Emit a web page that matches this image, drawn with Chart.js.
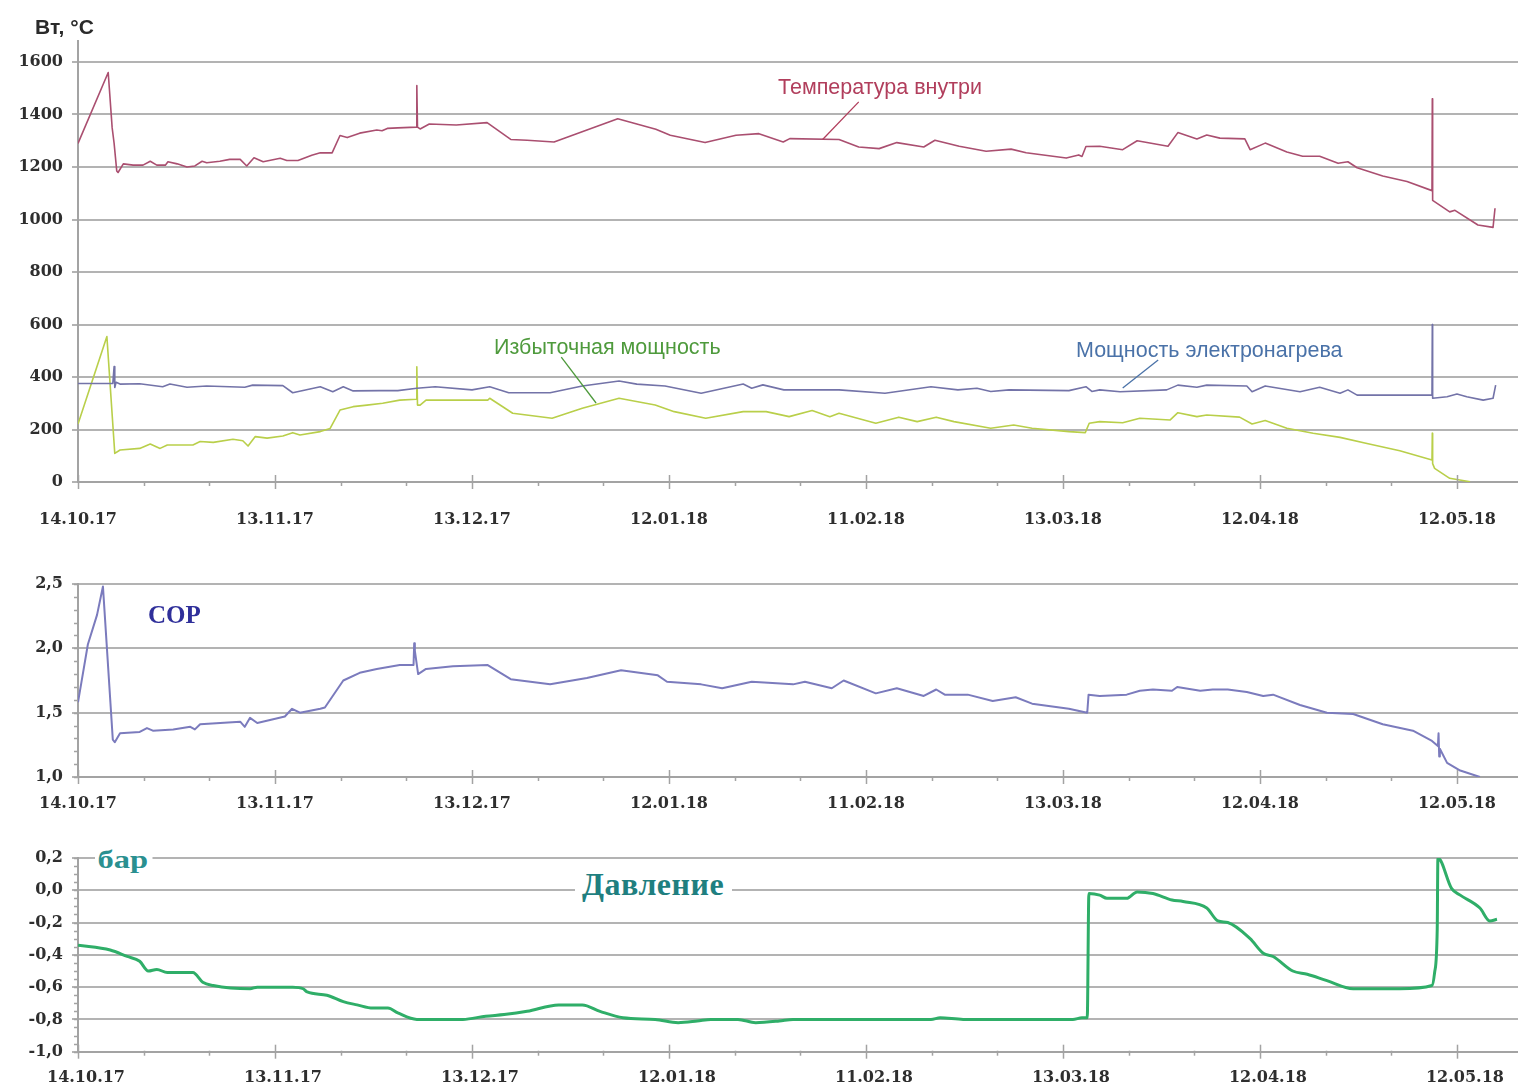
<!DOCTYPE html>
<html><head><meta charset="utf-8">
<script src="https://cdn.jsdelivr.net/npm/chart.js@4.4.1/dist/chart.umd.min.js"></script>
<style>
html,body{margin:0;padding:0;background:#fff;}
body{width:1518px;height:1088px;position:relative;overflow:hidden;}
.panel{position:absolute;left:0;width:1518px;}
.lbl{position:absolute;white-space:nowrap;line-height:1;}
</style></head><body>
<div class="panel" style="top:0;height:540px"><canvas id="c1"></canvas></div>
<div class="panel" style="top:545px;height:280px"><canvas id="c2"></canvas></div>
<div class="panel" style="top:830px;height:258px"><canvas id="c3"></canvas></div>

<div class="lbl" style="left:35px;top:15px;font:bold 21px 'Liberation Sans';color:#2a2a2a">Вт, °C</div>
<div class="lbl" style="left:778px;top:75px;font:21.5px 'Liberation Sans';color:#b13e5c">Температура внутри</div>
<div class="lbl" style="left:494px;top:335px;font:21.5px 'Liberation Sans';color:#4e9a3c">Избыточная мощность</div>
<div class="lbl" style="left:1076px;top:338px;font:21.5px 'Liberation Sans';color:#4a72a8">Мощность электронагрева</div>
<div class="lbl" style="left:148px;top:601px;font:bold 25px 'Liberation Serif';color:#2f2f9a">COP</div>
<div class="lbl" style="left:95px;top:845px;padding:0 4px 0 2px;background:#fff;font:bold 26px 'Liberation Serif';color:#2a9090;transform:scaleX(1.25);transform-origin:left center">бар</div>
<div class="lbl" style="left:575px;top:866px;padding:0 8px 0 7px;background:#fff;font:bold 32px 'Liberation Serif';color:#1f7f80;letter-spacing:0.5px">Давление</div>

<script>
// ---- tick labels (every 30 days from 14.10.17) ----
const tickLabels = ['14.10.17','13.11.17','13.12.17','12.01.18','11.02.18','13.03.18','12.04.18','12.05.18'];

// ---- Температура внутри (days since 14.10.17, value) ----
const tempDays = [0,4.6,5.2,5.5,5.9,6.1,6.9,8.4,9.9,11.0,12.0,13.3,13.7,15.1,16.6,17.8,18.9,19.6,21.6,23.1,24.7,25.7,26.8,28.2,30.8,31.8,33.5,35.6,36.9,38.7,39.9,41.0,42.9,45.5,46.3,47.1,48.7,51.5,51.6,51.7,52.1,53.5,57.6,62.3,65.9,68.4,72.5,82.2,88.0,90.2,95.5,100.2,103.7,107.4,108.4,115.9,118.9,122.0,124.7,128.8,130.5,134.2,138.3,142.1,144.4,150.5,152.4,152.9,153.5,155.6,159.1,161.3,166.0,167.5,170.4,171.9,173.9,177.7,178.5,180.8,184.1,186.5,189.1,191.9,193.4,194.8,198.7,202.4,206.2,206.25,206.3,208.9,209.7,213.2,215.5,215.8];
const tempValues = [1290,1560,1350,1290,1185,1179,1212,1207,1207,1222,1207,1207,1220,1212,1200,1204,1222,1216,1222,1229,1229,1204,1235,1220,1233,1225,1225,1245,1254,1254,1320,1312,1329,1341,1338,1347,1349,1352,1510,1352,1345,1364,1360,1369,1305,1302,1295,1384,1344,1321,1293,1321,1327,1295,1308,1305,1276,1270,1293,1276,1302,1279,1260,1268,1254,1234,1246,1240,1278,1279,1266,1300,1279,1331,1307,1322,1310,1307,1266,1291,1257,1241,1241,1214,1220,1197,1166,1145,1110,1460,1073,1029,1035,979,970,1043];

// ---- Мощность электронагрева ----
const heatDays = [0,5.3,5.5,5.6,5.8,6.4,9.4,12.9,14.0,16.6,19.6,25.4,26.6,31.2,32.7,36.9,38.8,40.4,41.9,46.0,48.7,51.6,54.4,60.0,62.7,65.6,71.9,76.8,82.4,85.1,89.4,94.9,101.3,102.6,104.3,107.5,115.9,122.9,129.9,134.0,136.9,139.0,141.8,150.9,153.5,154.4,155.6,158.7,165.8,167.5,170.4,171.9,178.0,178.8,180.8,186.1,189.1,192.2,193.4,194.8,201.3,206.2,206.25,206.3,208.5,210.0,211.5,214.0,215.5,215.9];
const heatValues = [375,375,440,360,380,373,374,363,373,361,366,361,369,367,340,363,344,363,347,348,348,357,363,351,363,340,340,366,385,373,366,338,373,357,370,351,351,338,363,351,357,345,351,348,363,345,351,344,351,369,361,369,366,344,366,344,361,338,351,331,331,331,600,319,325,335,325,312,319,369];

// ---- Избыточная мощность ----
const excessDays = [0,4.4,5.6,6.4,9.4,11.0,12.5,13.6,17.5,18.6,20.6,23.6,25.1,25.9,27.0,28.8,31.2,32.7,33.8,36.9,38.4,39.9,41.9,44.0,46.4,49.0,51.5,51.6,51.7,52.1,53.0,62.4,62.7,66.2,72.2,76.8,82.4,87.9,90.8,95.6,101.3,104.8,108.3,111.8,114.5,115.9,121.5,125.0,127.8,130.7,133.4,139.0,142.5,145.3,150.9,153.4,154.0,155.6,159.1,161.7,166.3,167.5,170.4,171.9,176.9,178.8,180.8,184.1,188.1,192.2,196.3,201.3,206.2,206.25,206.3,206.6,208.9,212.0];
const excessValues = [221,554,109,122,128,145,128,141,141,154,151,163,157,137,173,167,175,188,179,192,204,274,287,293,300,312,315,439,293,293,312,312,319,262,243,281,319,293,268,243,268,268,249,272,249,262,224,247,230,247,230,205,217,205,192,188,224,230,226,243,236,264,249,255,247,221,234,205,186,170,147,119,84,186,70,52,14,1];

// ---- COP ----
const copDays = [0,1.5,2.9,3.8,5.3,5.6,6.4,9.4,10.5,11.4,14.5,17.1,17.8,18.6,24.7,25.4,26.2,27.3,31.5,32.6,33.8,36.9,37.6,40.4,42.9,45.5,49.0,51.1,51.2,51.3,51.8,53.0,57.1,62.4,65.9,71.9,77.5,82.7,88.3,89.7,94.9,98.1,102.6,108.9,110.7,114.8,116.6,121.5,124.7,128.8,130.7,132.0,135.5,139.3,142.8,145.3,150.9,153.7,153.9,155.6,159.7,161.7,163.7,166.6,167.4,170.9,172.8,175.1,178.0,180.5,182.0,186.1,190.2,194.2,198.7,203.3,206.2,207.1,207.2,207.3,207.4,208.5,210.5,213.5];
const copValues = [1.58,2.03,2.26,2.48,1.29,1.27,1.34,1.35,1.38,1.36,1.37,1.39,1.37,1.41,1.43,1.39,1.46,1.42,1.47,1.53,1.50,1.53,1.54,1.75,1.81,1.84,1.87,1.87,2.04,1.98,1.80,1.84,1.86,1.87,1.76,1.72,1.77,1.83,1.79,1.74,1.72,1.69,1.74,1.72,1.74,1.69,1.75,1.65,1.69,1.63,1.68,1.64,1.64,1.59,1.62,1.57,1.53,1.50,1.64,1.63,1.64,1.67,1.68,1.67,1.70,1.67,1.68,1.68,1.66,1.63,1.64,1.56,1.50,1.49,1.41,1.36,1.28,1.24,1.34,1.16,1.22,1.11,1.05,1.00];

// ---- Давление, бар ----
const pressDays = [0,4.9,7.5,9.4,10.7,12.0,13.6,17.5,19.0,20.6,26.2,27.3,32.7,34.3,34.9,37.9,40.4,42.5,44.9,47.2,48.7,51.6,58.6,62.1,64.9,68.4,73.2,76.8,79.5,83.0,87.9,91.4,94.3,96.4,100.5,103.2,106.8,108.9,129.9,131.3,134.8,151.5,152.9,153.7,153.95,155.6,156.7,159.7,161.3,163.7,166.6,168.3,171.9,173.6,175.1,178.5,180.5,182.0,185.0,187.2,190.2,194.2,201.3,206.2,206.6,207.0,207.1,209.2,210.5,213.5,215.0,216.1];
const pressValues = [-0.34,-0.37,-0.41,-0.44,-0.50,-0.49,-0.51,-0.51,-0.57,-0.59,-0.61,-0.60,-0.60,-0.61,-0.63,-0.65,-0.69,-0.71,-0.73,-0.73,-0.76,-0.80,-0.80,-0.78,-0.77,-0.75,-0.71,-0.71,-0.75,-0.79,-0.80,-0.82,-0.81,-0.80,-0.80,-0.82,-0.81,-0.80,-0.80,-0.79,-0.80,-0.80,-0.79,-0.79,-0.02,-0.03,-0.05,-0.05,-0.01,-0.02,-0.06,-0.07,-0.11,-0.19,-0.20,-0.30,-0.39,-0.41,-0.50,-0.52,-0.56,-0.61,-0.61,-0.59,-0.51,-0.24,0.20,0.01,-0.03,-0.11,-0.19,-0.18];

// ---- annotation pointer lines (data coordinates) ----
const tempPointer = [[113.4,1305],[118.9,1448]];
const excessPointer = [[73.6,476],[78.9,301]];
const heatPointer = [[159.1,358],[164.5,465]];

function pts(d, v) { return d.map((x, i) => ({x: x, y: v[i]})); }

const GRID = '#b3b3b3', AXIS = '#a3a3a3', TXT = '#2e2e2e';
const tickFont = {family: 'DejaVu Serif', weight: 'bold', size: 16};

const decor = {
  id: 'decor',
  afterDatasetsDraw(chart, args, o) {
    const ctx = chart.ctx, xs = chart.scales.x, ys = chart.scales.y, a = chart.chartArea;
    ctx.save();
    ctx.strokeStyle = AXIS; ctx.lineWidth = 1.5;
    xs.ticks.forEach(t => {
      const px = Math.round(xs.getPixelForValue(t.value)) + 0.5;
      const major = Math.abs(t.value % 30) < 1e-6;
      ctx.beginPath();
      ctx.moveTo(px, a.bottom - (major ? 7 : 1));
      ctx.lineTo(px, a.bottom + (major ? 7 : 4));
      ctx.stroke();
    });
    if (o.minorStep) {
      for (let k = 0; ; k++) {
        const v = ys.min + k * o.minorStep;
        if (v > ys.max + 1e-9) break;
        const py = Math.round(ys.getPixelForValue(v)) + 0.5;
        ctx.beginPath(); ctx.moveTo(a.left - 4, py); ctx.lineTo(a.left, py); ctx.stroke();
      }
    }
    (o.pointers || []).forEach(p => {
      ctx.strokeStyle = p.color; ctx.lineWidth = 1.3;
      ctx.beginPath();
      ctx.moveTo(xs.getPixelForValue(p.pts[0][0]), ys.getPixelForValue(p.pts[0][1]));
      ctx.lineTo(xs.getPixelForValue(p.pts[1][0]), ys.getPixelForValue(p.pts[1][1]));
      ctx.stroke();
    });
    ctx.restore();
  }
};

function xScale(h, pad, labelOffset) {
  return {
    type: 'linear', min: 0, max: 219.3,
    afterBuildTicks: s => { s.ticks = s.ticks.filter(t => Math.abs(t.value / 10 - Math.round(t.value / 10)) < 1e-6); },
    afterFit: s => { s.height = h; s.paddingLeft = 0; s.paddingRight = 0; },
    ticks: {
      stepSize: 10, includeBounds: false, autoSkip: false, maxRotation: 0, minRotation: 0,
      padding: pad, labelOffset: labelOffset || 0, font: tickFont, color: TXT,
      callback: v => (Math.abs(v % 30) < 1e-6 ? tickLabels[Math.round(v / 30)] : '')
    },
    grid: {display: false, drawTicks: false},
    border: {display: true, color: AXIS, width: 2}
  };
}

function yScale(min, max, step, fmt) {
  return {
    min: min, max: max,
    afterFit: s => { s.width = 78; s.paddingTop = 0; s.paddingBottom = 0; },
    ticks: {stepSize: step, includeBounds: false, padding: 9, font: tickFont, color: TXT, callback: fmt},
    grid: {color: GRID, lineWidth: 2, tickLength: 6, tickColor: GRID, tickWidth: 2},
    border: {display: true, color: AXIS, width: 2}
  };
}

const comma = v => (Math.abs(v) < 1e-9 ? 0 : v).toFixed(1).replace('.', ',');

function line(data, color, w, extra) {
  return Object.assign({data: data, borderColor: color, borderWidth: w, pointRadius: 0,
    fill: false, tension: 0, borderJoinStyle: 'round'}, extra || {});
}

function opts(xs, ys, padTop, decorOpts) {
  return {
    responsive: true, maintainAspectRatio: false, animation: false,
    layout: {padding: {top: padTop, left: 0, right: 0, bottom: 0}},
    plugins: {legend: {display: false}, tooltip: {enabled: false}, decor: decorOpts},
    scales: {x: xs, y: ys}
  };
}

// Panel 1
new Chart(document.getElementById('c1'), {
  type: 'line',
  data: {datasets: [
    line(pts(tempDays, tempValues), '#aa4f70', 1.6),
    line(pts(heatDays, heatValues), '#7373a8', 1.6),
    line(pts(excessDays, excessValues), '#b9cf4a', 1.6)
  ]},
  options: opts(xScale(58, 28), yScale(0, 1680, 200, v => String(v)), 41, {
    pointers: [
      {pts: tempPointer, color: '#b13e5c'},
      {pts: excessPointer, color: '#4e9a3c'},
      {pts: heatPointer, color: '#4a72a8'}
    ]
  }),
  plugins: [decor]
});

// Panel 2
new Chart(document.getElementById('c2'), {
  type: 'line',
  data: {datasets: [ line(pts(copDays, copValues), '#7b7bbd', 2) ]},
  options: opts(xScale(48, 17), yScale(1, 2.5, 0.5, comma), 39, {minorStep: 0.1}),
  plugins: [decor]
});

// Panel 3
new Chart(document.getElementById('c3'), {
  type: 'line',
  data: {datasets: [ line(pts(pressDays, pressValues), '#2fae68', 3, {cubicInterpolationMode: 'monotone'}) ]},
  options: opts(xScale(36.3, 17, 8), yScale(-1, 0.2, 0.2, comma), 28, {minorStep: 0.05}),
  plugins: [decor]
});
</script>
</body></html>
